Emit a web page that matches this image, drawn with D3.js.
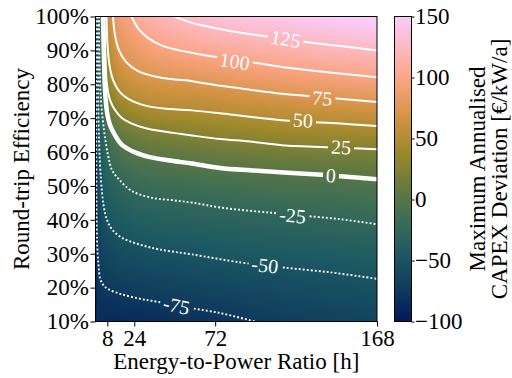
<!DOCTYPE html>
<html>
<head>
<meta charset="utf-8">
<script src="https://cdn.jsdelivr.net/npm/d3@7"></script>
<style>
  body { margin: 0; background: #fff; }
  svg text { font-family: "Liberation Serif", "Times New Roman", serif; }
</style>
</head>
<body>
<div id="chart"></div>
<script>
// contour levels and their line traces as [energy-to-power h, efficiency %]
var levels = [-75, -50, -25, 0, 25, 50, 75, 100, 125];
var levelText = ["-75", "-50", "-25", "0", "25", "50", "75", "100", "125"];

var lineM75 = [[1.30,100],[1.42,60.6],[1.89,34.1],[2.78,26.7],[3.85,22.5],[6.04,20.5],[8.83,19.5],[16.7,18.0],[28.6,16.6],[34.5,16.1],[49.4,14.8],[55.9,14.1],[74.9,12.5],[95.4,10.0]];
var lineM50 = [[2.19,100],[2.48,81.3],[3.08,63.6],[4.26,51.8],[5.75,44.4],[7.82,40.0],[10.8,37.2],[16.7,34.7],[26.6,32.8],[38.5,31.3],[58.2,29.8],[87.3,27.4],[101.5,26.6],[113.2,25.9],[140.2,24.5],[168,22.6]];
var lineM25 = [[3.08,100],[3.37,87.2],[4.26,75.4],[6.04,66.5],[8.42,59.1],[10.8,54.7],[14.8,52.0],[22.65,48.5],[34.5,46.5],[46.4,45.8],[58.2,45.1],[75.5,43.6],[105.1,42.1],[122.3,41.3],[146.1,40.2],[168,38.7]];
var line0 = [[5.45,100],[6.04,87.2],[6.64,78.3],[7.82,71.8],[9.6,68.0],[12.57,65.0],[16.7,62.1],[24.4,59.9],[33.3,58.5],[45.2,57.5],[58.2,56.6],[74.9,55.3],[92.7,54.6],[115.2,53.9],[140.8,53.1],[168,52.0]];
var line25 = [[6.34,100],[6.93,87.2],[7.82,79.8],[9.6,75.4],[12.57,72.4],[16.7,70.05],[24.4,68.0],[33.3,66.7],[45.2,65.8],[58.2,64.9],[74.9,63.85],[92.7,63.1],[111.7,62.0],[146.1,61.3],[168,60.8]];
var line50 = [[7.53,100],[8.12,91.6],[9.31,85.7],[11.4,81.3],[15.5,77.7],[22.65,75.1],[33.3,73.4],[45.2,72.7],[58.2,72.3],[80.8,71.1],[111.7,69.4],[146.1,68.4],[168,67.7]];
var line75 = [[11.4,100],[12.57,94.5],[14.9,90.1],[19.1,86.6],[26.2,83.9],[36.3,82.3],[48.2,81.4],[55.9,81.1],[64.2,80.4],[86.7,78.8],[111.7,77.2],[135.4,76.2],[168,74.8]];
var line100 = [[22.4,100],[26.2,96.6],[32.1,93.7],[40.45,91.4],[49.9,90.1],[55.9,89.5],[64.2,88.7],[83.8,87.2],[98.6,86.1],[111.7,85.1],[134.2,83.8],[168,82.1]];
var line125 = [[48.2,100],[55.9,98.5],[64.2,97.4],[80.8,95.7],[98.6,94.4],[113.4,93.5],[128.3,92.3],[146.1,91.3],[168,90.0]];
var contourLines = [lineM75, lineM50, lineM25, line0, line25, line50, line75, line100, line125];

// where the inline labels sit
var labelPos = [[49.05,14.7],[101.5,26.6],[117.9,41.3],[140.7,53.1],[146.7,61.5],[124.1,69.4],[135.6,75.95],[83.6,86.8],[113.8,93.45]];

var xTicks = [8, 24, 72, 168];
var yTicks = [10, 20, 30, 40, 50, 60, 70, 80, 90, 100];
var cbTicks = [-100, -50, 0, 50, 100, 150];
var batlow = ["#011959","#0F3D5E","#1C5A62","#3C6D56","#687B3E","#9D892B","#D29343","#F8A17B","#FDB7BC","#FACCFA"];

var W = 512, H = 378;
var plot = { left: 95.5, right: 377, top: 16.5, bottom: 321.5 };
var cb = { left: 394.5, right: 411.5 };
var fontSize = 23;

var svg = d3.select("#chart").append("svg")
    .attr("width", W).attr("height", H);

var x = d3.scaleLinear().domain([1, 168]).range([plot.left, plot.right]);
var y = d3.scaleLinear().domain([10, 100]).range([plot.bottom, plot.top]);
var color = d3.scaleSequential(d3.piecewise(d3.interpolateRgb, batlow)).domain([-100, 150]);

// ---- background field, filled between the contour traces ----
var pxLines = contourLines.map(function (l) {
    return l.map(function (d) { return [x(d[0]), y(d[1])]; });
});

function crossAt(P, px) {
    var n = P.length, s;
    if (px <= P[0][0]) {
        s = (P[1][1] - P[0][1]) / (P[1][0] - P[0][0]);
        return P[0][1] - (P[0][0] - px) * s;
    }
    if (px >= P[n - 1][0]) {
        s = (P[n - 1][1] - P[n - 2][1]) / (P[n - 1][0] - P[n - 2][0]);
        return P[n - 1][1] + (px - P[n - 1][0]) * s;
    }
    for (var i = 1; i < n; i++) {
        if (px <= P[i][0]) {
            var t = (px - P[i - 1][0]) / (P[i][0] - P[i - 1][0]);
            return P[i - 1][1] + t * (P[i][1] - P[i - 1][1]);
        }
    }
}

var cw = Math.round(plot.right - plot.left), ch = Math.round(plot.bottom - plot.top);
var canvas = document.createElement("canvas");
canvas.width = cw; canvas.height = ch;
var ctx = canvas.getContext("2d");
var img = ctx.createImageData(cw, ch);
var nL = levels.length;
for (var i = 0; i < cw; i++) {
    var px = plot.left + (i + 0.5) * (plot.right - plot.left) / cw;
    var ys = pxLines.map(function (P) { return crossAt(P, px); });
    for (var k = 1; k < nL; k++) if (ys[k] > ys[k - 1] - 0.5) ys[k] = ys[k - 1] - 0.5;
    for (var j = 0; j < ch; j++) {
        var py = plot.top + (j + 0.5) * (plot.bottom - plot.top) / ch;
        var v;
        if (py >= ys[0]) {
            v = levels[0] - (levels[1] - levels[0]) * (py - ys[0]) / (ys[0] - ys[1]);
        } else if (py <= ys[nL - 1]) {
            v = levels[nL - 1] + (levels[nL - 1] - levels[nL - 2]) * (ys[nL - 1] - py) / (ys[nL - 2] - ys[nL - 1]);
        } else {
            for (k = 0; k < nL - 1; k++) {
                if (py <= ys[k] && py > ys[k + 1]) {
                    v = levels[k] + (levels[k + 1] - levels[k]) * (ys[k] - py) / (ys[k] - ys[k + 1]);
                    break;
                }
            }
        }
        v = Math.max(-100, Math.min(150, v));
        var c = d3.rgb(color(v));
        var o = (j * cw + i) * 4;
        img.data[o] = c.r; img.data[o + 1] = c.g; img.data[o + 2] = c.b; img.data[o + 3] = 255;
    }
}
ctx.putImageData(img, 0, 0);

svg.append("image")
    .attr("x", plot.left).attr("y", plot.top)
    .attr("width", plot.right - plot.left).attr("height", plot.bottom - plot.top)
    .attr("preserveAspectRatio", "none")
    .attr("href", canvas.toDataURL());

// ---- contour lines with gaps for labels ----
var defs = svg.append("defs");
defs.append("clipPath").attr("id", "plotClip")
    .append("rect")
    .attr("x", plot.left).attr("y", plot.top)
    .attr("width", plot.right - plot.left).attr("height", plot.bottom - plot.top);

var mask = defs.append("mask").attr("id", "labelMask")
    .attr("maskUnits", "userSpaceOnUse")
    .attr("x", 0).attr("y", 0).attr("width", W).attr("height", H);
mask.append("rect").attr("width", W).attr("height", H).attr("fill", "white");

var line = d3.line()
    .x(function (d) { return x(d[0]); })
    .y(function (d) { return y(d[1]); })
    .curve(d3.curveCatmullRom.alpha(0.5));

var lineG = svg.append("g").attr("clip-path", "url(#plotClip)")
    .append("g").attr("mask", "url(#labelMask)");

lineG.selectAll("path")
    .data(contourLines)
    .enter().append("path")
    .attr("d", line)
    .attr("fill", "none")
    .attr("stroke", "white")
    .attr("stroke-width", function (d, i) { return levels[i] === 0 ? 4.5 : (levels[i] < 0 ? 1.9 : 2); })
    .attr("stroke-dasharray", function (d, i) { return levels[i] < 0 ? "1.9,2.1" : null; });

function angleAt(P, px, py) {
    var best = 1e9, ang = 0;
    for (var i = 1; i < P.length; i++) {
        var mx = (P[i][0] + P[i - 1][0]) / 2, my = (P[i][1] + P[i - 1][1]) / 2;
        var dd = (mx - px) * (mx - px) + (my - py) * (my - py);
        if (dd < best) { best = dd; ang = Math.atan2(P[i][1] - P[i - 1][1], P[i][0] - P[i - 1][0]) * 180 / Math.PI; }
    }
    return ang;
}

var labelG = svg.append("g");
labelPos.forEach(function (p, i) {
    var lx = x(p[0]), ly = y(p[1]);
    var a = angleAt(pxLines[i], lx, ly);
    var t = labelG.append("text")
        .attr("transform", "translate(" + lx + "," + ly + ") rotate(" + a + ")")
        .attr("text-anchor", "middle")
        .attr("dy", "0.35em")
        .attr("fill", "white")
        .style("font-size", "20px")
        .text(levelText[i]);
    var tw = t.node().getComputedTextLength();
    mask.append("rect")
        .attr("transform", "translate(" + lx + "," + ly + ") rotate(" + a + ")")
        .attr("x", -tw / 2 - 3).attr("y", -9)
        .attr("width", tw + 6).attr("height", 18)
        .attr("fill", "black");
});

// ---- axes ----
svg.append("rect")
    .attr("x", plot.left).attr("y", plot.top)
    .attr("width", plot.right - plot.left).attr("height", plot.bottom - plot.top)
    .attr("fill", "none").attr("stroke", "black").attr("stroke-width", 1);

var yAxis = svg.append("g")
    .attr("transform", "translate(" + plot.left + ",0)")
    .call(d3.axisLeft(y).tickValues(yTicks).tickSize(5).tickPadding(1.5)
        .tickFormat(function (d) { return d + "%"; }));

var xAxis = svg.append("g")
    .attr("transform", "translate(0," + plot.bottom + ")")
    .call(d3.axisBottom(x).tickValues(xTicks).tickSize(5).tickPadding(3));

var cy = d3.scaleLinear().domain([-100, 150]).range([plot.bottom, plot.top]);
var grad = defs.append("linearGradient").attr("id", "cbGrad")
    .attr("x1", 0).attr("y1", 1).attr("x2", 0).attr("y2", 0);
batlow.forEach(function (c, i) {
    grad.append("stop").attr("offset", i / (batlow.length - 1)).attr("stop-color", c);
});
svg.append("rect")
    .attr("x", cb.left).attr("y", plot.top)
    .attr("width", cb.right - cb.left).attr("height", plot.bottom - plot.top)
    .attr("fill", "url(#cbGrad)")
    .attr("stroke", "black").attr("stroke-width", 1);

var cbAxis = svg.append("g")
    .attr("transform", "translate(" + cb.right + ",0)")
    .call(d3.axisRight(cy).tickValues(cbTicks).tickSize(3).tickPadding(0.5));

[yAxis, xAxis, cbAxis].forEach(function (g) {
    g.select(".domain").remove();
    g.attr("font-family", null).attr("font-size", null);
    g.selectAll("text").style("font-size", fontSize + "px").attr("fill", "black");
    g.selectAll("line").attr("stroke", "black");
});

// ---- titles ----
svg.append("text")
    .attr("x", (plot.left + plot.right) / 2).attr("y", 369)
    .attr("text-anchor", "middle")
    .style("font-size", fontSize + "px")
    .text("Energy-to-Power Ratio [h]");

svg.append("text")
    .attr("transform", "translate(29," + (plot.top + plot.bottom) / 2 + ") rotate(-90)")
    .attr("text-anchor", "middle")
    .style("font-size", fontSize + "px")
    .text("Round-trip Efficiency");

svg.append("text")
    .attr("transform", "translate(485," + (plot.top + plot.bottom) / 2 + ") rotate(-90)")
    .attr("text-anchor", "middle")
    .style("font-size", fontSize + "px")
    .text("Maximum Annualised");

svg.append("text")
    .attr("transform", "translate(506.5," + (plot.top + plot.bottom) / 2 + ") rotate(-90)")
    .attr("text-anchor", "middle")
    .style("font-size", fontSize + "px")
    .text("CAPEX Deviation [€/kW/a]");
</script>
</body>
</html>
